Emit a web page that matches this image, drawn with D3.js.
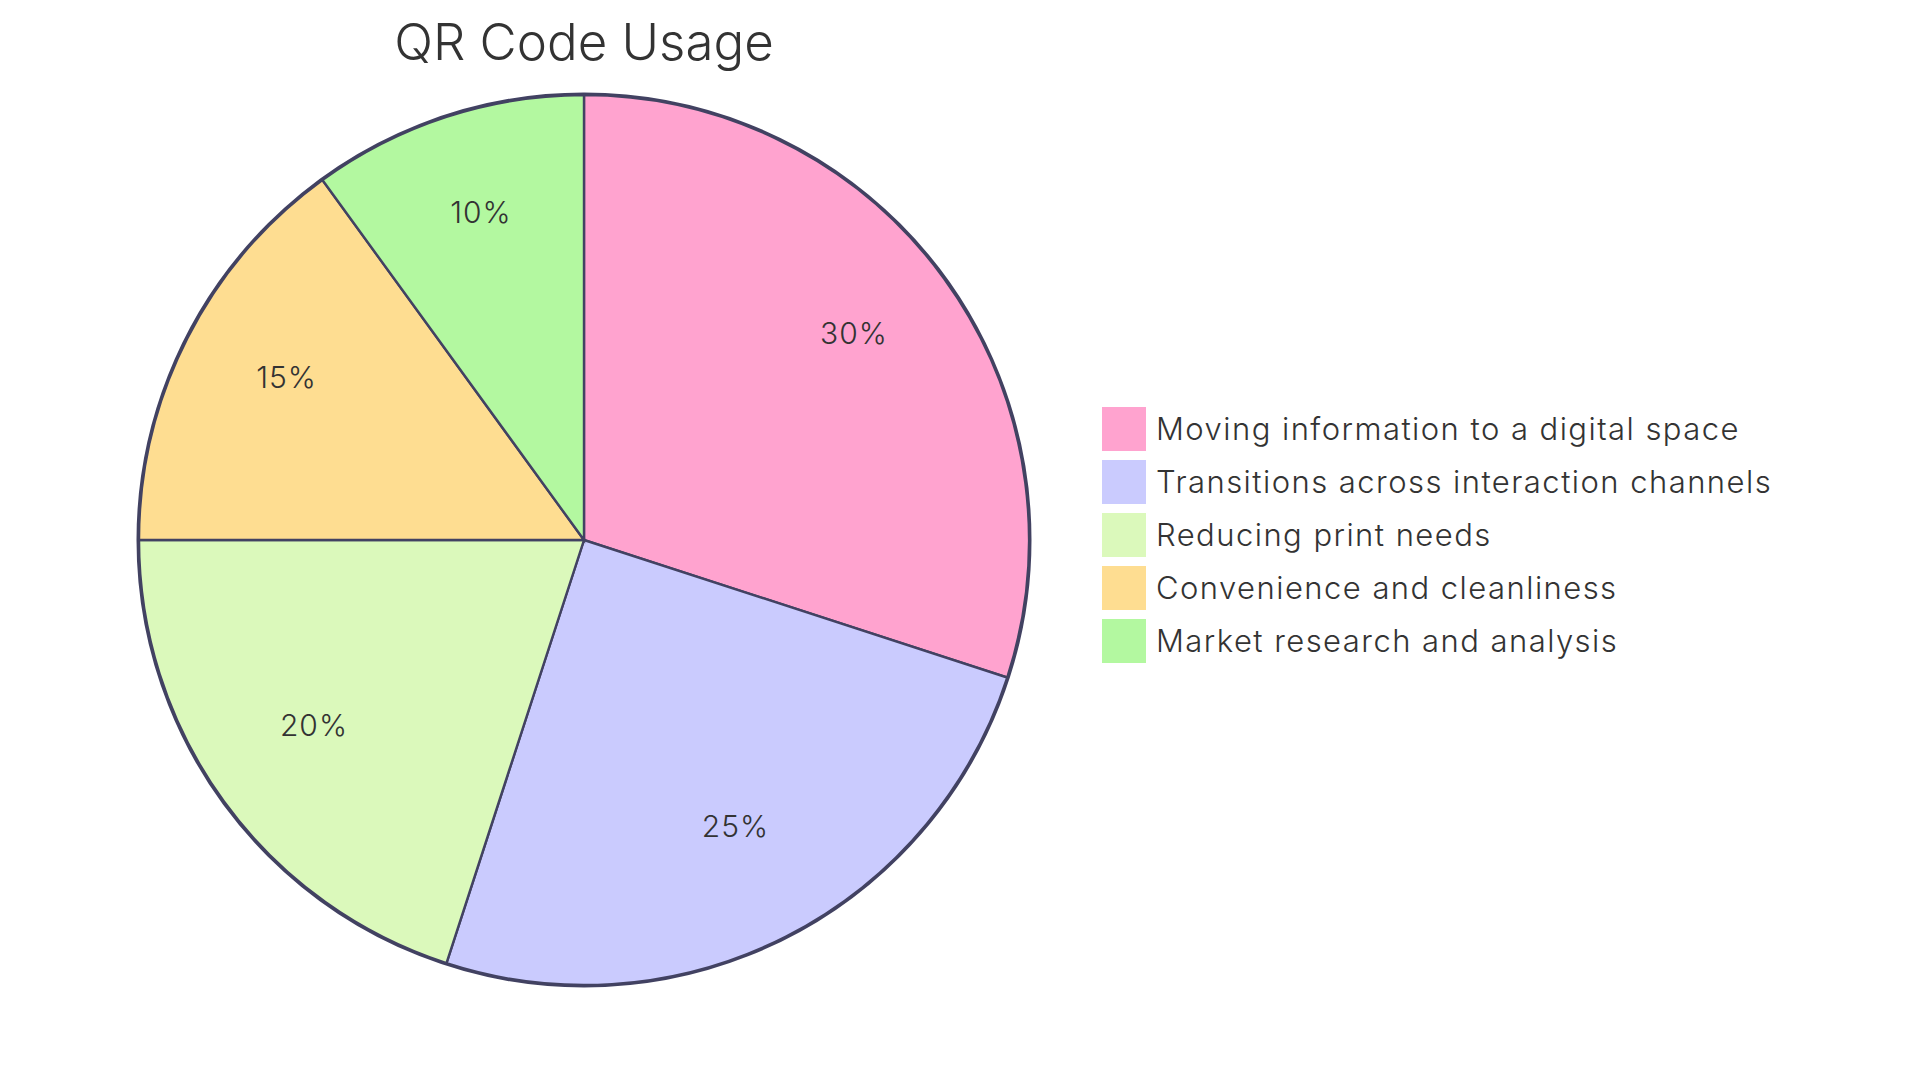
<!DOCTYPE html>
<html>
<head>
<meta charset="utf-8">
<script src="https://cdn.jsdelivr.net/npm/d3@7"></script>
<style>
  html, body { margin: 0; padding: 0; background: #ffffff; }
  svg { display: block; font-family: Inter, "Open Sans", sans-serif; }
</style>
</head>
<body>
<svg id="chart" width="1920" height="1080"></svg>
<script>
const title = "QR Code Usage";
const categories = [
  "Moving information to a digital space",
  "Transitions across interaction channels",
  "Reducing print needs",
  "Convenience and cleanliness",
  "Market research and analysis"
];
const values = [30, 25, 20, 15, 10];
const colors = ["#FFA3CF", "#CACBFE", "#DBF9BB", "#FEDD91", "#B3F8A0"];

const svg = d3.select("#chart");
const cx = 584, cy = 540, radius = 445;
const strokeColor = "#424262";

const pie = d3.pie().sort(null).value(d => d.value);
const data = categories.map((c, i) => ({ label: c, value: values[i], color: colors[i] }));
const arcs = pie(data);
const total = d3.sum(values);

const arc = d3.arc().innerRadius(0).outerRadius(radius);
const labelArc = d3.arc().innerRadius(radius * 0.75).outerRadius(radius * 0.75);

const g = svg.append("g").attr("transform", `translate(${cx},${cy})`);

g.append("circle")
  .attr("r", radius + 1)
  .attr("fill", "none")
  .attr("stroke", strokeColor)
  .attr("stroke-width", 3);

g.selectAll("path.slice")
  .data(arcs)
  .join("path")
  .attr("class", "slice")
  .attr("d", arc)
  .attr("fill", d => d.data.color)
  .attr("stroke", strokeColor)
  .attr("stroke-width", 2.4);

g.selectAll("text.pct")
  .data(arcs)
  .join("text")
  .attr("class", "pct")
  .attr("transform", d => `translate(${labelArc.centroid(d)})`)
  .attr("text-anchor", "middle")
  .attr("font-size", 30)
  .attr("font-weight", 300)
  .attr("letter-spacing", 1)
  .attr("fill", "#333333")
  .text(d => Math.round(d.data.value / total * 100) + "%");

svg.append("text")
  .attr("x", cx)
  .attr("y", 60)
  .attr("text-anchor", "middle")
  .attr("font-size", 51)
  .attr("font-weight", 300)
  .attr("fill", "#333333")
  .text(title);

const legendX = 1102, legendY = 407, rectSize = 44, rowH = 53;
const legend = svg.append("g");
const rows = legend.selectAll("g")
  .data(data)
  .join("g")
  .attr("transform", (d, i) => `translate(${legendX},${legendY + i * rowH})`);
rows.append("rect")
  .attr("width", rectSize)
  .attr("height", rectSize)
  .attr("fill", d => d.color);
rows.append("text")
  .attr("x", rectSize + 10)
  .attr("y", rectSize / 2)
  .attr("dy", "0.35em")
  .attr("font-size", 31)
  .attr("font-weight", 300)
  .attr("letter-spacing", 1.45)
  .attr("fill", "#333333")
  .text(d => d.label);
</script>
</body>
</html>
